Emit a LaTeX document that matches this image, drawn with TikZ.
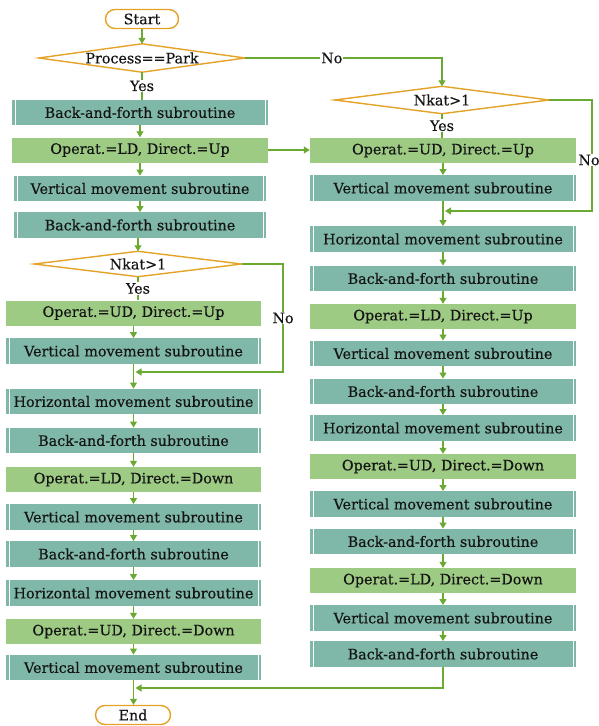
\documentclass[tikz,border=0pt]{standalone}
\usepackage{fontspec}
\setmainfont{DejaVu Serif}[FakeBold=0.35]
\usetikzlibrary{arrows.meta}

\definecolor{subfill}{RGB}{127,184,168}
\definecolor{opfill}{RGB}{158,203,132}
\definecolor{orng}{RGB}{228,162,38}
\definecolor{flowgreen}{RGB}{106,170,50}
\definecolor{ink}{RGB}{20,20,20}

\tikzset{
  sub/.style={rectangle, fill=subfill, minimum height=25.5pt, inner sep=0pt, text=ink,
    path picture={
      \draw[white, line width=0.9pt]
        ([xshift=3pt]path picture bounding box.north west) -- ([xshift=3pt]path picture bounding box.south west)
        ([xshift=-3pt]path picture bounding box.north east) -- ([xshift=-3pt]path picture bounding box.south east);
    }},
  opbox/.style={rectangle, fill=opfill, minimum height=25pt, inner sep=0pt, text=ink},
  term/.style={rectangle, rounded corners=9.5pt, draw=orng, line width=1.4pt, fill=white,
    minimum height=19pt, inner sep=0pt, text=ink},
  decision/.style={rectangle, inner sep=0pt, text=ink},
  dshape/.style={draw=orng, line width=1.4pt, fill=white},
  lbl/.style={fill=white, inner sep=1pt, text=ink},
  flow/.style={draw=flowgreen, line width=1.2pt, -{Triangle[length=6pt,width=7pt]}},
  link/.style={draw=flowgreen, line width=1.2pt},
}

\begin{document}
\begin{tikzpicture}[x=1pt, y=-1pt, font=\fontsize{14.3}{17}\selectfont]
\useasboundingbox (0,0) rectangle (599,726);

% ---- left column ----
\node[term, minimum width=73pt] (start) at (142,19) {Start};
\node[decision, minimum width=206pt, minimum height=28pt] (d1) at (142,58) {};
\draw[dshape] (d1.west) -- (d1.north) -- (d1.east) -- (d1.south) -- cycle;
\node[text=ink] at (d1) {Process==Park};

\node[sub, minimum width=256pt] (b1) at (140,112.5) {Back-and-forth subroutine};
\node[opbox, minimum width=256pt] (o1) at (140,150) {Operat.=LD, Direct.=Up};
\node[sub, minimum width=252pt] (v1) at (140,188.5) {Vertical movement subroutine};
\node[sub, minimum width=252pt] (b2) at (140,225) {Back-and-forth subroutine};

\node[decision, minimum width=207pt, minimum height=25pt] (d2) at (138,264) {};
\draw[dshape] (d2.west) -- (d2.north) -- (d2.east) -- (d2.south) -- cycle;
\node[text=ink] at (d2) {Nkat>1};

\node[opbox, minimum width=255pt] (o2) at (133.5,313) {Operat.=UD, Direct.=Up};
\node[sub, minimum width=255pt] (v2) at (133.5,351) {Vertical movement subroutine};
\node[sub, minimum width=255pt] (h1) at (133.5,401.5) {Horizontal movement subroutine};
\node[sub, minimum width=255pt] (b3) at (133.5,440.5) {Back-and-forth subroutine};
\node[opbox, minimum width=255pt] (o3) at (133.5,479.5) {Operat.=LD, Direct.=Down};
\node[sub, minimum width=255pt] (v3) at (133.5,517) {Vertical movement subroutine};
\node[sub, minimum width=255pt] (b4) at (133.5,554) {Back-and-forth subroutine};
\node[sub, minimum width=255pt] (h2) at (133.5,593) {Horizontal movement subroutine};
\node[opbox, minimum width=255pt] (o4) at (133.5,631.5) {Operat.=UD, Direct.=Down};
\node[sub, minimum width=255pt] (v4) at (133.5,667.5) {Vertical movement subroutine};
\node[term, minimum width=75pt] (end) at (133,715) {End};

% ---- right column ----
\node[decision, minimum width=214pt, minimum height=27pt] (d3) at (442,100) {};
\draw[dshape] (d3.west) -- (d3.north) -- (d3.east) -- (d3.south) -- cycle;
\node[text=ink] at (d3) {Nkat>1};

\node[opbox, minimum width=266pt] (o5) at (443,150.5) {Operat.=UD, Direct.=Up};
\node[sub, minimum width=266pt] (v5) at (443,188) {Vertical movement subroutine};
\node[sub, minimum width=266pt] (h3) at (443,239) {Horizontal movement subroutine};
\node[sub, minimum width=266pt] (b5) at (443,278.5) {Back-and-forth subroutine};
\node[opbox, minimum width=266pt] (o6) at (443,316.5) {Operat.=LD, Direct.=Up};
\node[sub, minimum width=266pt] (v6) at (443,353.5) {Vertical movement subroutine};
\node[sub, minimum width=266pt] (b6) at (443,391.5) {Back-and-forth subroutine};
\node[sub, minimum width=266pt] (h4) at (443,428) {Horizontal movement subroutine};
\node[opbox, minimum width=266pt] (o7) at (443,466.5) {Operat.=UD, Direct.=Down};
\node[sub, minimum width=266pt] (v7) at (443,504) {Vertical movement subroutine};
\node[sub, minimum width=266pt] (b7) at (443,541.5) {Back-and-forth subroutine};
\node[opbox, minimum width=266pt] (o8) at (443,580.5) {Operat.=LD, Direct.=Down};
\node[sub, minimum width=266pt] (v8) at (443,618) {Vertical movement subroutine};
\node[sub, minimum width=266pt] (b8) at (443,654) {Back-and-forth subroutine};

% ---- junction points ----
\coordinate (c2) at (283,318);
\coordinate (m1) at (135.5,372);
\coordinate (c3) at (592,160);
\coordinate (m2) at (445,211);
\coordinate (m3) at (135.5,688);

% ---- connectors: left column ----
\draw[flow] (start.south) -- (start.south |- d1.north);
\draw[link] (d1.south) -- node[lbl]{Yes} (d1.south |- b1.north);
\draw[flow] (b1.south) -- (b1.south |- o1.north);
\draw[flow] (o1.south) -- (o1.south |- v1.north);
\draw[flow] (v1.south) -- (v1.south |- b2.north);
\draw[flow] (d2.north |- b2.south) -- (d2.north);
\draw[link] (d2.south) -- node[lbl]{Yes} (d2.south |- o2.north);
\draw[flow] (o2.south) -- (o2.south |- v2.north);
\draw[flow] (v2.south) -- (v2.south |- h1.north);
\draw[flow] (h1.south) -- (h1.south |- b3.north);
\draw[flow] (b3.south) -- (b3.south |- o3.north);
\draw[flow] (o3.south) -- (o3.south |- v3.north);
\draw[flow] (v3.south) -- (v3.south |- b4.north);
\draw[flow] (b4.south) -- (b4.south |- h2.north);
\draw[flow] (h2.south) -- (h2.south |- o4.north);
\draw[flow] (o4.south) -- (o4.south |- v4.north);
\draw[flow] (v4.south) -- (v4.south |- end.north);
\draw[flow] (d2.east) -| (c2) node[lbl]{No} |- (m1);

% ---- connectors: across and right column ----
\draw[flow] (d1.east) -| node[lbl, pos=0.22]{No} (d3.north);
\draw[flow] (o1.east) -- (o1.east -| o5.west);
\draw[link] (d3.south) -- node[lbl]{Yes} (d3.south |- o5.north);
\draw[flow] (o5.south) -- (o5.south |- v5.north);
\draw[flow] (v5.south) -- (v5.south |- h3.north);
\draw[flow] (d3.east) -| (c3) node[lbl, xshift=-3pt]{No} |- (m2);
\draw[flow] (h3.south) -- (h3.south |- b5.north);
\draw[flow] (b5.south) -- (b5.south |- o6.north);
\draw[flow] (o6.south) -- (o6.south |- v6.north);
\draw[flow] (v6.south) -- (v6.south |- b6.north);
\draw[flow] (b6.south) -- (b6.south |- h4.north);
\draw[flow] (h4.south) -- (h4.south |- o7.north);
\draw[flow] (o7.south) -- (o7.south |- v7.north);
\draw[flow] (v7.south) -- (v7.south |- b7.north);
\draw[flow] (b7.south) -- (b7.south |- o8.north);
\draw[flow] (o8.south) -- (o8.south |- v8.north);
\draw[flow] (v8.south) -- (v8.south |- b8.north);
\draw[flow] (b8.south) |- (m3);
\end{tikzpicture}
\end{document}
